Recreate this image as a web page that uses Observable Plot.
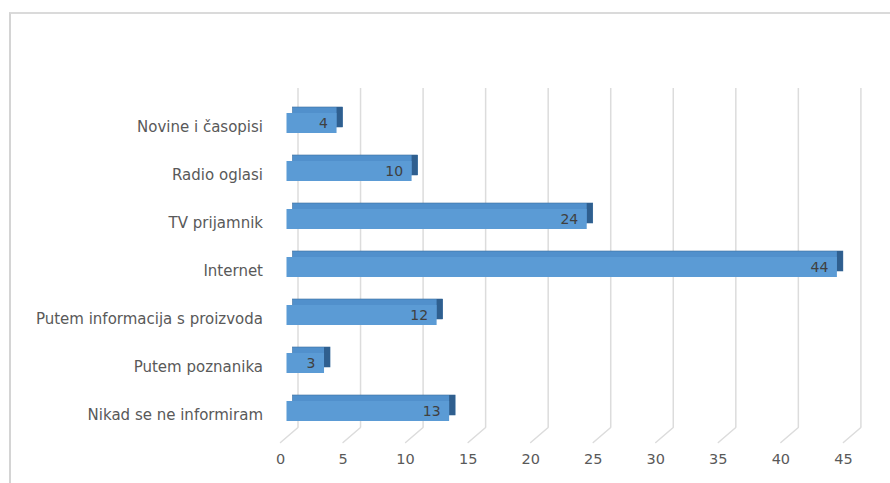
<!DOCTYPE html>
<html>
<head>
<meta charset="utf-8">
<script src="https://cdn.jsdelivr.net/npm/d3@7"></script>
<script src="https://cdn.jsdelivr.net/npm/@observablehq/plot@0.6"></script>
<style>
  html, body { margin: 0; padding: 0; background: #fff; }
  #wrap { position: relative; width: 890px; height: 483px; overflow: hidden; }
  #border { position: absolute; left: 9px; top: 12px; width: 900px; height: 500px;
            border-top: 2px solid #dadada; border-left: 2px solid #d4d4d4; }
  #chart { position: absolute; left: 0; top: 0; }
</style>
</head>
<body>
<div id="wrap"><div id="border"></div><div id="chart"></div></div>
<script>
const categories = ["Novine i časopisi", "Radio oglasi", "TV prijamnik", "Internet",
  "Putem informacija s proizvoda", "Putem poznanika", "Nikad se ne informiram"];
const values = [4, 10, 24, 44, 12, 3, 13];
const xTicks = [0, 5, 10, 15, 20, 25, 30, 35, 40, 45];

const data = categories.map((c, i) => ({category: c, value: values[i]}));

const font = "'DejaVu Sans', 'Liberation Sans', sans-serif";
const lineShape = {draw(context, l) { context.moveTo(0, 0); context.lineTo(0, -l); }};

const chart = Plot.plot({
  width: 890,
  height: 483,
  marginLeft: 286.5,
  marginRight: 40.6,
  marginTop: 88,
  marginBottom: 38,
  style: {fontFamily: font, background: "transparent", color: "#595959"},
  x: {domain: [0, 45], axis: null},
  y: {domain: categories, paddingInner: 0.585, paddingOuter: 0.5, axis: null, label: null},
  marks: [
    // back wall gridlines
    Plot.ruleX(xTicks, {x: d => d, dx: 11, insetBottom: 18, stroke: "#dcdcdc", strokeWidth: 1.5}),
    // floor diagonals
    Plot.vector(xTicks, {x: d => d, frameAnchor: "bottom", dx: -6.5, dy: -3, length: 23, rotate: 49.4,
      anchor: "start", shape: lineShape, stroke: "#dcdcdc", strokeWidth: 1.5}),
    // x tick labels
    Plot.text(xTicks, {x: d => d, text: d => String(d), frameAnchor: "bottom", dy: 18, dx: -6.5,
      fontSize: 14.5, fill: "#595959"}),
    // category labels
    Plot.axisY({tickSize: 0, tickPadding: 24, fontSize: 15, dy: 4, fill: "#595959", label: null}),
    // 3D bar: top face (offset back)
    Plot.barX(data, {x1: 0, x2: "value", y: "category", dx: 6, dy: -6, fill: "#5190cc",
      stroke: "#3d6f9f", strokeWidth: 0.6}),
    // right side face
    Plot.barX(data, {x1: "value", x2: "value", y: "category", insetRight: -6, dy: -6, fill: "#2f5f8f"}),
    // front face
    Plot.barX(data, {x1: 0, x2: "value", y: "category", fill: "#5b9bd5"}),
    // value labels
    Plot.text(data, {x: "value", y: "category", text: d => String(d.value), textAnchor: "end",
      dx: -9, fontSize: 14, fill: "#404040"})
  ]
});
document.getElementById("chart").appendChild(chart);
</script>
</body>
</html>
